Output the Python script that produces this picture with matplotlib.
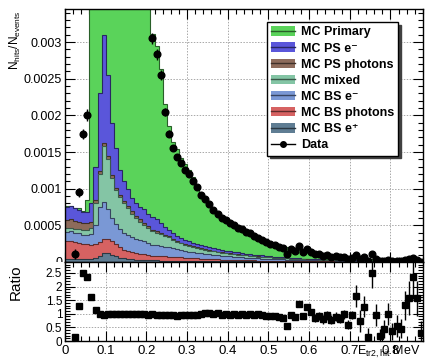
import numpy as np
import matplotlib.pyplot as plt
from matplotlib.patches import Patch, Rectangle
from matplotlib.lines import Line2D
from matplotlib.ticker import MultipleLocator, FuncFormatter
from matplotlib.colors import to_rgb

plt.rcParams['font.family'] = ['Liberation Sans', 'DejaVu Sans']
plt.rcParams['mathtext.default'] = 'regular'

# values in units of 1e-4 (N_hits / N_events), bins of 0.01 MeV from 0
SCALE = 1e-4
bin_width = 0.01

bs_eplus = [0.4, 0.4, 0.4, 0.4, 0.4, 0.4, 0.4, 0.5, 0.8, 1.2, 1.2, 1.0, 0.8, 0.6, 0.5, 0.4,
            0.35, 0.3, 0.3, 0.25, 0.25,
            0.22, 0.22, 0.2, 0.2, 0.2, 0.2, 0.18, 0.18, 0.17, 0.16,
            0.15, 0.15, 0.14, 0.13, 0.12, 0.12, 0.11, 0.1, 0.1, 0.1,
            0.09, 0.09, 0.08, 0.08, 0.07, 0.07, 0.06, 0.06, 0.06, 0.05,
            0.05, 0.05, 0.04, 0.04, 0.04, 0.04, 0.03, 0.03, 0.03, 0.03,
            0.03, 0.03, 0.02, 0.02, 0.02, 0.02, 0.02, 0.02, 0.02, 0.02,
            0.01, 0.01, 0.01, 0.01, 0.01, 0.01, 0.01, 0.01, 0.01, 0.01,
            0.01, 0.01, 0.01, 0.01, 0.01, 0.01, 0.01]
bs_photons = [2.4, 2.5, 2.3, 2.2, 2.0, 2.0, 1.9, 1.9, 1.9, 1.9, 1.9, 1.8, 1.6, 1.4, 1.2, 1.1,
              1.0, 0.95, 0.85, 0.8, 0.7,
              0.65, 0.62, 0.6, 0.58, 0.55, 0.5, 0.48, 0.45, 0.42, 0.4,
              0.37, 0.35, 0.33, 0.31, 0.29, 0.27, 0.25, 0.23, 0.22, 0.21,
              0.2, 0.19, 0.18, 0.17, 0.16, 0.15, 0.14, 0.13, 0.12, 0.12,
              0.11, 0.1, 0.1, 0.09, 0.08, 0.08, 0.07, 0.07, 0.06, 0.06,
              0.06, 0.05, 0.05, 0.05, 0.05, 0.04, 0.04, 0.04, 0.04, 0.03,
              0.03, 0.03, 0.03, 0.03, 0.03, 0.02, 0.02, 0.02, 0.02, 0.02,
              0.02, 0.02, 0.02, 0.01, 0.01, 0.01, 0.01]
bs_eminus = [1.3, 1.3, 1.3, 1.3, 1.3, 1.3, 1.5, 2.6, 4.8, 5.1, 4.1, 3.2, 2.8, 2.5, 2.3, 2.2,
             2.05, 1.95, 1.85, 1.75, 1.65,
             1.5, 1.45, 1.4, 1.3, 1.25, 1.15, 1.05, 0.95, 0.9, 0.85,
             0.8, 0.75, 0.7, 0.66, 0.62, 0.58, 0.55, 0.52, 0.49, 0.46,
             0.43, 0.4, 0.38, 0.36, 0.34, 0.32, 0.3, 0.28, 0.26, 0.25,
             0.24, 0.22, 0.21, 0.2, 0.18, 0.17, 0.16, 0.15, 0.14, 0.13,
             0.12, 0.12, 0.11, 0.1, 0.1, 0.09, 0.09, 0.08, 0.08, 0.07,
             0.07, 0.07, 0.06, 0.06, 0.06, 0.05, 0.05, 0.05, 0.05, 0.04,
             0.04, 0.04, 0.04, 0.04, 0.035, 0.035, 0.03]
mixed = [0.5, 0.5, 0.5, 0.6, 0.7, 0.7, 0.8, 3.0, 4.5, 7.6, 6.8, 5.5, 4.6, 4.3, 4.0, 3.6,
         3.2, 2.8, 2.5, 2.2, 2.0,
         1.8, 1.7, 1.6, 1.5, 1.35, 1.2, 1.05, 0.95, 0.85, 0.78,
         0.72, 0.66, 0.6, 0.56, 0.52, 0.48, 0.45, 0.42, 0.4, 0.37,
         0.35, 0.33, 0.31, 0.29, 0.27, 0.25, 0.24, 0.22, 0.21, 0.2,
         0.18, 0.17, 0.16, 0.15, 0.14, 0.13, 0.12, 0.12, 0.11, 0.1,
         0.1, 0.09, 0.09, 0.08, 0.08, 0.07, 0.07, 0.06, 0.06, 0.06,
         0.05, 0.05, 0.05, 0.05, 0.04, 0.04, 0.04, 0.04, 0.03, 0.03,
         0.03, 0.03, 0.03, 0.03, 0.025, 0.025, 0.025]
ps_photons = [1.1, 1.1, 1.1, 1.0, 0.9, 0.9, 0.8, 0.4, 0.4, 0.4, 0.4, 0.3, 0.3, 0.3, 0.3, 0.3,
              0.3, 0.3, 0.3, 0.3, 0.25,
              0.2, 0.2, 0.18, 0.17, 0.16, 0.15, 0.14, 0.12, 0.11, 0.1,
              0.1, 0.09, 0.09, 0.08, 0.08, 0.07, 0.07, 0.06, 0.06, 0.05,
              0.05, 0.05, 0.04, 0.04, 0.04, 0.04, 0.03, 0.03, 0.03, 0.03,
              0.03, 0.03, 0.03, 0.02, 0.02, 0.02, 0.02, 0.02, 0.02, 0.02,
              0.01, 0.01, 0.01, 0.01, 0.01, 0.01, 0.01, 0.01, 0.01, 0.01,
              0.01, 0.01, 0.01, 0.01, 0.01, 0.01, 0.01, 0.0, 0.0, 0.0,
              0.0, 0.0, 0.0, 0.0, 0.0, 0.0, 0.0]
ps_eminus = [1.8, 1.8, 1.7, 1.6, 1.5, 1.5, 2.6, 4.6, 10.6, 14.8, 11.1, 7.2, 5.4, 3.5, 2.7, 2.4,
             1.8, 1.7, 1.7, 1.9, 1.75,
             1.83, 1.61, 1.32, 1.05, 0.79, 0.7, 0.6, 0.65, 0.6, 0.56,
             0.51, 0.5, 0.44, 0.41, 0.37, 0.35, 0.33, 0.31, 0.29, 0.27,
             0.26, 0.24, 0.23, 0.21, 0.2, 0.18, 0.18, 0.17, 0.15, 0.13,
             0.12, 0.11, 0.1, 0.1, 0.1, 0.08, 0.09, 0.07, 0.07, 0.06,
             0.06, 0.06, 0.06, 0.06, 0.04, 0.05, 0.03, 0.04, 0.03, 0.03,
             0.04, 0.03, 0.03, 0.02, 0.02, 0.03, 0.02, 0.02, 0.025, 0.03,
             0.02, 0.015, 0.01, 0.01, 0.015, 0.01, 0.01]
primary = [0.1, 0.1, 0.1, 0.2, 0.2, 1.7, 37, 59, 69, 67, 66.5, 63, 56.5, 51.4, 46, 42,
           38.3, 35, 32.5, 30.3, 29.9,
           24.9, 23.7, 21.0, 16.8, 14.3, 12.4, 11.9, 10.9, 10.35, 9.65,
           8.95, 8.0, 6.9, 6.25, 5.7, 5.23, 4.74, 4.56, 4.24, 4.04,
           3.72, 3.55, 3.33, 3.1, 2.82, 2.64, 2.4, 2.21, 2.07, 1.92,
           1.77, 1.65, 1.54, 1.43, 1.34, 1.24, 1.14, 1.04, 0.97, 0.9,
           0.83, 0.77, 0.71, 0.66, 0.61, 0.57, 0.53, 0.48, 0.44, 0.41,
           0.38, 0.35, 0.32, 0.3, 0.28, 0.26, 0.24, 0.225, 0.205, 0.19,
           0.18, 0.165, 0.15, 0.14, 0.125, 0.115, 0.105]

data = [np.nan, np.nan, 1.1, 9.5, 17.5, 20.0, 72, 83, 92, 95, 92, 81.2, 72, 64.6, 57, 51.5,
        47, 42.1, 39.6, 36.75, 35.4,
        30.5, 28.3, 25.5, 20.5, 17.5, 15.5, 14.3, 13.5, 12.6, 12.0,
        11.0, 10.2, 9.2, 8.6, 7.9, 7.1, 6.6, 6.0, 5.7, 5.3,
        5.0, 4.6, 4.5, 4.1, 3.9, 3.5, 3.3, 2.95, 2.7, 2.45,
        2.3, 2.05, 1.85, 1.12, 1.8, 1.55, 2.2, 1.4, 1.75, 1.37,
        1.03, 1.04, 0.84, 0.93, 0.71, 0.76, 0.65, 0.72, 0.41, 0.60,
        0.97, 0.41, 0.64, 0.072, 1.12, 0.40, 0.071, 0.165, 0.34, 0.112,
        0.165, 0.126, 0.34, 0.38, 0.52, 0.32, 0.057]
data_err = [np.nan, np.nan, 0.7, 0.6, 0.7, 0.8, 1.8, 2.2, 1.8, 2.0, 1.8, 1.6, 1.4, 1.3, 1.1, 1.0,
            0.95, 0.86, 0.8, 0.75, 0.73,
            0.78, 0.74, 0.66, 0.54, 0.47, 0.41, 0.39, 0.36, 0.34, 0.31,
            0.35, 0.32, 0.28, 0.25, 0.23, 0.21, 0.2, 0.19, 0.17, 0.17,
            0.23, 0.22, 0.2, 0.19, 0.18, 0.16, 0.15, 0.14, 0.13, 0.12,
            0.22, 0.21, 0.2, 0.18, 0.17, 0.16, 0.15, 0.14, 0.13, 0.12,
            0.19, 0.18, 0.17, 0.16, 0.15, 0.14, 0.13, 0.12, 0.11, 0.1,
            0.24, 0.22, 0.2, 0.15, 0.25, 0.17, 0.1, 0.12, 0.14, 0.1,
            0.12, 0.1, 0.14, 0.15, 0.18, 0.13, 0.08]

# stack order bottom -> top
layers = [
    ('MC BS e\u207a', bs_eplus, '#5f7d93'),
    ('MC BS photons', bs_photons, '#d66262'),
    ('MC BS e\u207b', bs_eminus, '#7a98d5'),
    ('MC mixed', mixed, '#84c5a5'),
    ('MC PS photons', ps_photons, '#8d6b5b'),
    ('MC PS e\u207b', ps_eminus, '#5a56da'),
    ('MC Primary', primary, '#5ad35a'),
]

n = len(data)
edges = np.arange(n + 1) * bin_width
centers = edges[:-1] + bin_width / 2

comp = np.array([l[1] for l in layers]) * SCALE
cum = np.cumsum(comp, axis=0)
total = cum[-1]
y = np.array(data) * SCALE
yerr = np.array(data_err) * SCALE
ratio = y / total
ratio_err = yerr / total


def darker(c, f=0.45):
    return tuple(v * f for v in to_rgb(c))


fig = plt.figure(figsize=(4.27, 3.6), dpi=100)
ax = fig.add_axes([65 / 427, 98 / 360, 358 / 427, 253 / 360])
rax = fig.add_axes([65 / 427, 19 / 360, 358 / 427, 79 / 360], zorder=1)

fmt = FuncFormatter(lambda v, p: f'{v:g}')

for k in reversed(range(len(layers))):
    col = layers[k][2]
    ax.stairs(cum[k], edges, baseline=0, fill=True, facecolor=col, edgecolor='none', zorder=2)
    ax.stairs(cum[k], edges, baseline=None, color=darker(col), lw=0.8, zorder=2)

ax.errorbar(centers, y, yerr=yerr, fmt='o', color='k', ms=4.8, elinewidth=1, capsize=0, zorder=3)

ax.set_xlim(0, 0.88)
ax.set_ylim(0, 0.00345)
ax.xaxis.set_major_locator(MultipleLocator(0.1))
ax.xaxis.set_minor_locator(MultipleLocator(0.02))
ax.yaxis.set_major_locator(MultipleLocator(0.0005))
ax.yaxis.set_minor_locator(MultipleLocator(0.0001))
ax.yaxis.set_major_formatter(fmt)
ax.tick_params(labelbottom=False)
ax.tick_params(axis='y', labelsize=9, pad=2)

rax.errorbar(centers, ratio, yerr=ratio_err, fmt='s', color='k', ms=4.5, elinewidth=1, capsize=0, zorder=3)
rax.set_xlim(0, 0.88)
rax.set_ylim(0, 2.9)
rax.xaxis.set_major_locator(MultipleLocator(0.1))
rax.xaxis.set_minor_locator(MultipleLocator(0.02))
rax.yaxis.set_major_locator(MultipleLocator(0.5))
rax.yaxis.set_minor_locator(MultipleLocator(0.1))
rax.xaxis.set_major_formatter(fmt)
rax.yaxis.set_major_formatter(fmt)
rax.tick_params(axis='y', labelsize=8.5, pad=2)
rax.tick_params(axis='x', labelsize=9.5, pad=3)

for a in (ax, rax):
    a.tick_params(which='both', direction='in', top=True, right=True, width=0.8)
    a.tick_params(which='major', length=7)
    a.tick_params(which='minor', length=3.5)
    a.grid(True, which='major', color='#a8a8a8', linestyle=(0, (1.5, 1.5)), lw=0.7)
    a.set_axisbelow(True)
    for s in a.spines.values():
        s.set_linewidth(1)

# hide the lower half of the top panel's "0" like the overlapping ROOT pad
fig.patches.append(Rectangle((0, 0), 63 / 427, 98 / 360, transform=fig.transFigure,
                             facecolor='white', edgecolor='none', zorder=0.5))

handles = []
labels = []
for name, vals, col in reversed(layers):
    handles.append((Patch(facecolor=col, edgecolor='none'), Line2D([], [], color=darker(col), lw=1)))
    labels.append(name)
handles.append(Line2D([], [], color='k', marker='o', ms=4, lw=1))
labels.append('Data')

leg = ax.legend(handles, labels, loc='upper left', bbox_to_anchor=(0.564, 0.949),
                borderaxespad=0, frameon=True, fancybox=False, edgecolor='k', framealpha=1,
                shadow={'color': '0.25', 'alpha': 1}, prop={'weight': 'bold', 'size': 9},
                handlelength=1.9, handleheight=0.8, labelspacing=0.32, borderpad=0.35,
                handletextpad=0.45)
leg.get_frame().set_linewidth(1)
leg.set_zorder(5)

fig.text(15 / 427, 1 - 10 / 360, r'N$_{hits}$/N$_{events}$', rotation=90,
         ha='center', va='top', fontsize=8.5)
fig.text(16 / 427, 1 - 282 / 360, 'Ratio', rotation=90, ha='center', va='center', fontsize=11)
# ROOT-style axis title at the right end of the axis, on the tick-label line
fig.text(421 / 427, 1 - 352 / 360, r'E$_{tr2,hit}$ MeV', ha='right', va='center', fontsize=9)

fig.savefig('out.png', dpi=100)
